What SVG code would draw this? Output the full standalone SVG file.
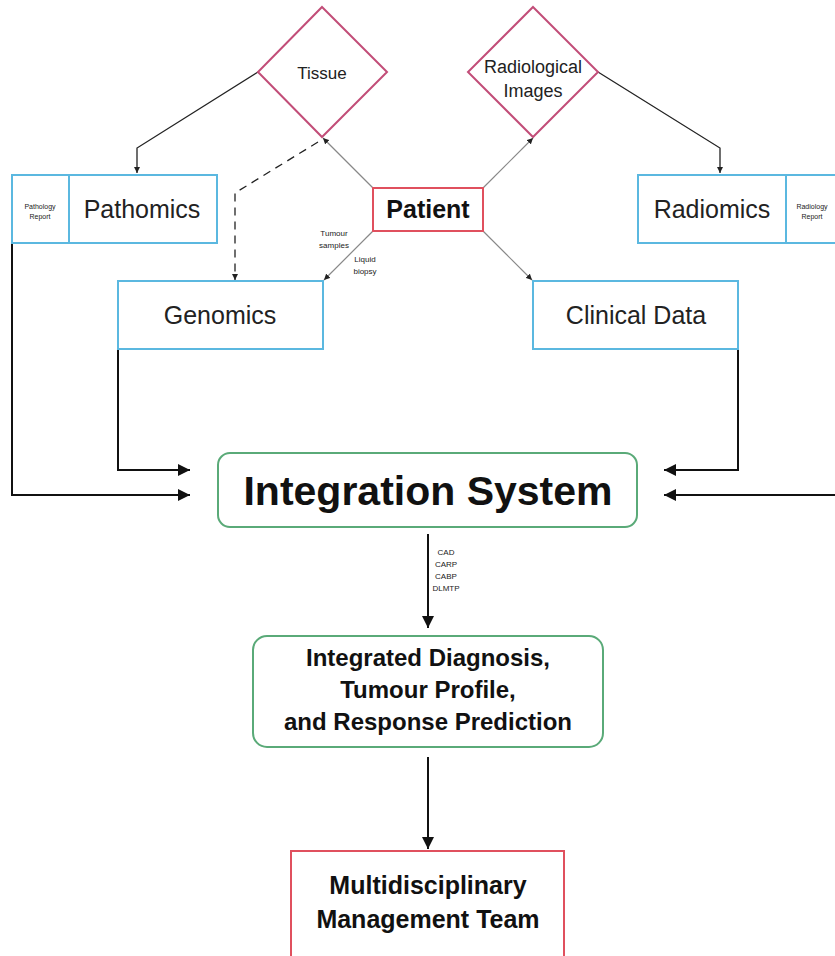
<svg xmlns="http://www.w3.org/2000/svg" width="835" height="956" viewBox="0 0 835 956">
<defs>
<style>
.t{font-family:"Liberation Sans",Arial,sans-serif;fill:#222;text-anchor:middle}
.b{font-weight:bold;fill:#111}
.blue{fill:#fff;stroke:#5bb8e0;stroke-width:2}
.dia{fill:#fff;stroke:#c24d78;stroke-width:2}
.red{fill:#fff;stroke:#e0505e;stroke-width:2}
.grn{fill:#fff;stroke:#5aaa78;stroke-width:2}
.k{fill:none;stroke:#222;stroke-width:1.3}
.kb{fill:none;stroke:#111;stroke-width:2}
.g{fill:none;stroke:#888;stroke-width:1.2}
</style>
<marker id="sa" viewBox="0 0 10 10" refX="10" refY="5" markerWidth="6" markerHeight="7" markerUnits="userSpaceOnUse" orient="auto"><path d="M0,0L10,5L0,10z" fill="#222"/></marker>
<marker id="la" viewBox="0 0 10 10" refX="10" refY="5" markerWidth="22" markerHeight="12" markerUnits="userSpaceOnUse" orient="auto"><path d="M0,0L10,5L0,10z" fill="#111"/></marker>
</defs>
<rect width="835" height="956" fill="#fff"/>
<g id="connectors">
<polyline class="k" points="258,72 137,148 137,173" marker-end="url(#sa)"/>
<polyline class="k" points="598,72 720,148 720,173" marker-end="url(#sa)"/>
<polyline class="k" points="318,142 235,193 235,280" stroke-dasharray="8,6" marker-end="url(#sa)"/>
<line class="g" x1="373" y1="188" x2="323" y2="138" marker-end="url(#sa)"/>
<line class="g" x1="483" y1="188" x2="533" y2="138" marker-end="url(#sa)"/>
<line class="g" x1="373" y1="231" x2="324" y2="280" marker-end="url(#sa)"/>
<line class="g" x1="483" y1="231" x2="532" y2="280" marker-end="url(#sa)"/>
<polyline class="kb" points="118,349 118,470 190,470" marker-end="url(#la)"/>
<polyline class="kb" points="12,243 12,495 190,495" marker-end="url(#la)"/>
<polyline class="kb" points="738,349 738,470 664,470" marker-end="url(#la)"/>
<polyline class="kb" points="835,495 664,495" marker-end="url(#la)"/>
<line class="kb" x1="428" y1="534" x2="428" y2="628" marker-end="url(#la)"/>
<line class="kb" x1="428" y1="757" x2="428" y2="849" marker-end="url(#la)"/>
<text class="t" x="334" y="236" font-size="8">Tumour</text>
<text class="t" x="334" y="248" font-size="8">samples</text>
<text class="t" x="365" y="262" font-size="8">Liquid</text>
<text class="t" x="365" y="274" font-size="8">biopsy</text>
<text class="t" x="446" y="555" font-size="8">CAD</text>
<text class="t" x="446" y="567" font-size="8">CARP</text>
<text class="t" x="446" y="579" font-size="8">CABP</text>
<text class="t" x="446" y="591" font-size="8">DLMTP</text>
</g>
<g id="tissue">
<polygon class="dia" points="322,7 387,72 322,137 258,72"/>
<text class="t" x="322" y="79" font-size="17">Tissue</text>
</g>
<g id="radiological">
<polygon class="dia" points="533,7 598,72 533,137 468,72"/>
<text class="t" x="533" y="73" font-size="18">Radiological</text>
<text class="t" x="533" y="97" font-size="18">Images</text>
</g>
<g id="patient">
<rect class="red" x="373" y="188" width="110" height="43"/>
<text class="t b" x="428" y="218" font-size="25">Patient</text>
</g>
<g id="pathomics">
<rect class="blue" x="12" y="175" width="205" height="68"/>
<line class="blue" x1="69" y1="175" x2="69" y2="243"/>
<text class="t" x="40" y="209" font-size="7">Pathology</text>
<text class="t" x="40" y="219" font-size="7">Report</text>
<text class="t" x="142" y="218" font-size="25">Pathomics</text>
</g>
<g id="radiomics">
<rect class="blue" x="638" y="175" width="205" height="68"/>
<line class="blue" x1="786" y1="175" x2="786" y2="243"/>
<text class="t" x="812" y="209" font-size="7">Radiology</text>
<text class="t" x="812" y="219" font-size="7">Report</text>
<text class="t" x="712" y="218" font-size="25">Radiomics</text>
</g>
<g id="genomics">
<rect class="blue" x="118" y="281" width="205" height="68"/>
<text class="t" x="220" y="324" font-size="25">Genomics</text>
</g>
<g id="clinical">
<rect class="blue" x="533" y="281" width="205" height="68"/>
<text class="t" x="636" y="324" font-size="25">Clinical Data</text>
</g>
<g id="integration">
<rect class="grn" x="218" y="453" width="419" height="74" rx="12"/>
<text class="t b" x="428" y="505" font-size="41">Integration System</text>
</g>
<g id="diagnosis">
<rect class="grn" x="253" y="636" width="350" height="111" rx="14"/>
<text class="t b" x="428" y="666" font-size="24">Integrated Diagnosis,</text>
<text class="t b" x="428" y="698" font-size="24">Tumour Profile,</text>
<text class="t b" x="428" y="730" font-size="24">and Response Prediction</text>
</g>
<g id="mdt">
<rect class="red" x="291" y="851" width="273" height="115" stroke="#e07075"/>
<text class="t b" x="428" y="894" font-size="25">Multidisciplinary</text>
<text class="t b" x="428" y="928" font-size="25">Management Team</text>
</g>
</svg>
